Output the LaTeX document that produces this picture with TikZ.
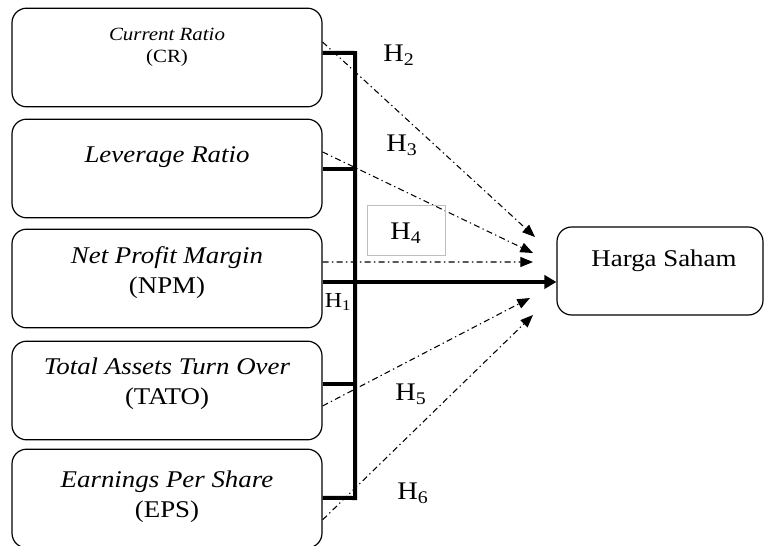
\documentclass[tikz,border=0pt]{standalone}
\usepackage{fontspec}
\setmainfont{Liberation Serif}[FakeStretch=1.12]
\usetikzlibrary{arrows.meta}

\tikzset{
  ratiobox/.style={draw, rounded corners=11pt, line width=0.9pt, minimum width=232.5pt, minimum height=74pt},
  hargabox/.style={draw, rounded corners=11pt, line width=0.9pt, minimum width=154.5pt, minimum height=66pt},
  boxtext/.style={align=center, font=\fontsize{18}{22.5}\selectfont},
  hlabel/.style={font=\fontsize{19}{22}\selectfont, inner sep=0pt},
  bracket/.style={line width=3pt},
  hypo/.style={line width=0.8pt, dash pattern=on 4.5pt off 2.5pt on 1pt off 2.5pt, -{Triangle[length=9.5pt,width=7.5pt]}}
}

\begin{document}
\begin{tikzpicture}[x=0.75pt, y=-0.75pt]
    \useasboundingbox (0,0) rectangle (765,546);
    % variables
    \node [ratiobox] (cr) at (167,57.5) {};
    \node [ratiobox] (lev) at (167,168.5) {};
    \node [ratiobox] (npm) at (167,278.5) {};
    \node [ratiobox] (tato) at (167,390.5) {};
    \node [ratiobox] (eps) at (167,498.5) {};
    \node [hargabox] (harga) at (660,271) {};

    \node [boxtext, font=\fontsize{14}{16.5}\selectfont] (crtext) at (167,47) {\textit{Current Ratio}\\(CR)};
    \node [boxtext] (levtext) at (167,157) {\textit{Leverage Ratio}};
    \node [boxtext] (npmtext) at (167,273) {\textit{Net Profit Margin}\\(NPM)};
    \node [boxtext] (tatotext) at (167,384) {\textit{Total Assets Turn Over}\\(TATO)};
    \node [boxtext] (epstext) at (167,497) {\textit{Earnings Per Share}\\(EPS)};
    \node [boxtext] (hargatext) at (664,261) {Harga Saham};

    % bracket and simultaneous path
    \coordinate (top) at (355,53);
    \coordinate (bottom) at (355,498);
    \draw [bracket] ([yshift=3.4pt]cr.east) -- (top) -- (bottom) -- ([yshift=0.4pt]eps.east);
    \draw [bracket] (lev.east) -- (lev.east -| top);
    \draw [bracket] ([yshift=4.8pt]tato.east) -- ([yshift=4.8pt]tato.east -| top);
    \draw [bracket, -{Triangle[length=9pt,width=10pt]}] ([yshift=-2.6pt]npm.east) -- ([yshift=-2.6pt]npm.east -| harga.west);

    % partial paths
    \coordinate (tip2) at (535,237);
    \coordinate (tip3) at (533,253);
    \coordinate (tip4) at (533,262);
    \coordinate (tip5) at (530,298);
    \coordinate (tip6) at (533,315);
    \draw [hypo] ([yshift=11.6pt]cr.east) -- (tip2);
    \draw [hypo] ([yshift=12.4pt]lev.east) -- (tip3);
    \draw [hypo] ([yshift=12.4pt]npm.east) -- (tip4);
    \draw [hypo] ([yshift=-11.6pt]tato.east) -- (tip5);
    \draw [hypo] ([yshift=-16pt]eps.east) -- (tip6);

    % hypotheses
    \node [hlabel, font=\fontsize{16}{18}\selectfont] (h1) at (338,302) {H\textsubscript{1}};
    \node [hlabel] (h2) at (399,55) {H\textsubscript{2}};
    \node [hlabel] (h3) at (402,145) {H\textsubscript{3}};
    \node [draw=black!25, line width=0.75pt, minimum width=59pt, minimum height=37pt] (h4box) at (406.5,230.5) {};
    \node [hlabel] (h4) at (406,233) {H\textsubscript{4}};
    \node [hlabel] (h5) at (411,394) {H\textsubscript{5}};
    \node [hlabel] (h6) at (413,493) {H\textsubscript{6}};
\end{tikzpicture}
\end{document}
